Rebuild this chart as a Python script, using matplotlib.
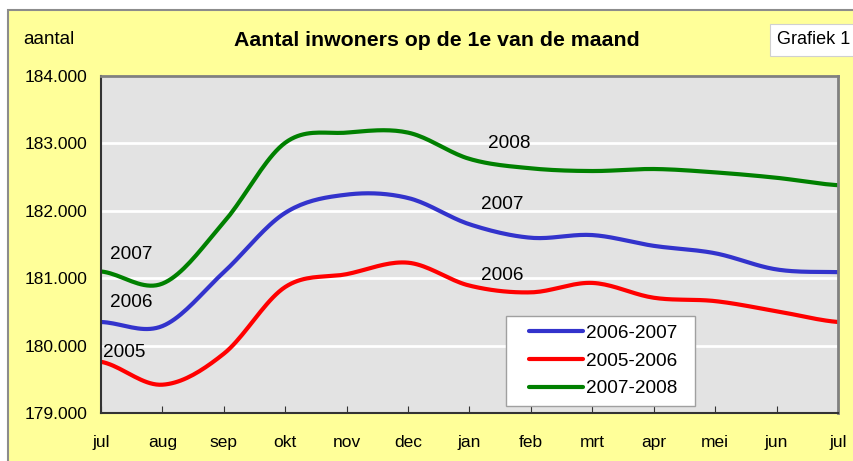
import numpy as np
import matplotlib
matplotlib.use('Agg')
from matplotlib import pyplot as plt
from matplotlib.patches import Rectangle
from matplotlib.legend_handler import HandlerLine2D
from matplotlib.ticker import FuncFormatter

plt.rcParams['font.family'] = ['Liberation Sans', 'DejaVu Sans']

months = ['jul', 'aug', 'sep', 'okt', 'nov', 'dec', 'jan', 'feb', 'mrt', 'apr', 'mei', 'jun', 'jul']

# inwoners per maand
s_2006_2007 = [180350, 180290, 181090, 181970, 182240, 182190, 181800, 181600, 181640, 181480, 181370, 181130, 181090]
s_2005_2006 = [179760, 179420, 179880, 180870, 181060, 181230, 180890, 180790, 180930, 180710, 180660, 180510, 180350]
s_2007_2008 = [181100, 180920, 181830, 183010, 183160, 183160, 182770, 182630, 182590, 182620, 182570, 182490, 182380]

series = [('2006-2007', s_2006_2007, '#3333CC'),
          ('2005-2006', s_2005_2006, '#FF0000'),
          ('2007-2008', s_2007_2008, '#008000')]

# year labels next to the lines: (text, x in months, y)
year_labels = [('2007', 0.15, 181345), ('2006', 0.15, 180635), ('2005', 0.03, 179905),
               ('2008', 6.3, 183005), ('2007', 6.19, 182100), ('2006', 6.19, 181045)]


def smooth(y, n=20):
    # Catmull-Rom through the points, like the smoothed line in a spreadsheet
    y = np.asarray(y, dtype=float)
    p = np.concatenate([[y[0]], y, [y[-1]]])
    xs, ys = [], []
    for i in range(len(y) - 1):
        p0, p1, p2, p3 = p[i], p[i + 1], p[i + 2], p[i + 3]
        t = np.linspace(0, 1, n, endpoint=False)
        v = 0.5 * ((2 * p1) + (-p0 + p2) * t + (2 * p0 - 5 * p1 + 4 * p2 - p3) * t ** 2
                   + (-p0 + 3 * p1 - 3 * p2 + p3) * t ** 3)
        xs.append(i + t)
        ys.append(v)
    xs.append([len(y) - 1])
    ys.append([y[-1]])
    return np.concatenate(xs), np.concatenate(ys)


W, H = 854, 461
fig = plt.figure(figsize=(W / 100, H / 100), dpi=100)
fig.patch.set_facecolor('white')

# yellow chart area with grey border
bg = Rectangle((8 / W, -0.01), (W - 8) / W + 0.01, (H - 10) / H + 0.01, transform=fig.transFigure,
               facecolor='#FFFF99', edgecolor='#8C8C8C', linewidth=1.5, zorder=-10)
fig.add_artist(bg)

ax = fig.add_axes([101 / W, (H - 413) / H, (838 - 101) / W, (413 - 76) / H])
ax.set_zorder(1)
ax.set_facecolor('#E3E3E3')

for name, vals, col in series:
    xs, ys = smooth(vals)
    ax.plot(xs, ys, color=col, linewidth=3, label=name, solid_capstyle='round')

for txt, x, y in year_labels:
    ax.text(x, y, txt, fontsize=13.7, ha='left', va='center')

ax.set_xlim(0, 12)
ax.set_ylim(179000, 184000)
ax.set_xticks(range(13))
ax.set_xticklabels(months, fontsize=12.5)
ax.set_yticks(np.arange(179000, 184001, 1000))
ax.yaxis.set_major_formatter(FuncFormatter(lambda v, p: '{:,.0f}'.format(v).replace(',', '.')))
ax.tick_params(axis='x', direction='in', length=5, pad=16, color='#333333')
ax.tick_params(axis='y', length=0, pad=10, labelsize=12.5)
ax.grid(axis='y', color='white', linewidth=2)
ax.set_axisbelow(True)
for s in ['top', 'right']:
    ax.spines[s].set_color('#808080')
    ax.spines[s].set_linewidth(2)
for s in ['left', 'bottom']:
    ax.spines[s].set_color('#333333')
    ax.spines[s].set_linewidth(1.5)

leg = ax.legend(loc='upper left', bbox_to_anchor=(506 / W, (H - 404) / H, 189 / W, 88 / H),
                bbox_transform=fig.transFigure, mode='expand',
                fontsize=13.7, frameon=True, fancybox=False, edgecolor='#A0A0A0', framealpha=1,
                handlelength=3.58, handletextpad=0.2, labelspacing=0.55, borderpad=0.45, borderaxespad=0,
                handler_map={plt.Line2D: HandlerLine2D(xpad=0.74)})
leg.get_frame().set_linewidth(1)

fig.text(437 / W, 1 - 40 / H, 'Aantal inwoners op de 1e van de maand', fontsize=15.3,
         fontweight='bold', ha='center', va='center')
fig.text(23 / W, 1 - 40 / H, 'aantal', fontsize=13.5, ha='left', va='center')
fig.text(777 / W, 1 - 40 / H, 'Grafiek 1', fontsize=13, ha='left', va='center',
         bbox=dict(boxstyle='square,pad=0.4', facecolor='white', edgecolor='#D0D0D0', linewidth=0.8))

fig.savefig('out.png', dpi=100, facecolor=fig.get_facecolor())
